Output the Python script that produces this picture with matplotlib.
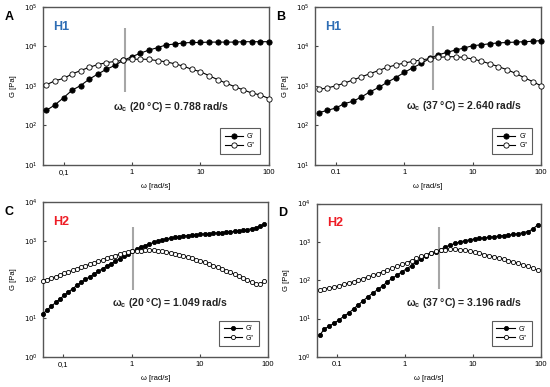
import matplotlib
matplotlib.use('Agg')
import matplotlib.pyplot as plt
import numpy as np

plt.rcParams['font.family'] = ['Liberation Sans', 'DejaVu Sans']

# angular frequency (rad/s)
w_h1 = [0.0562, 0.075, 0.1, 0.133, 0.178, 0.237, 0.316, 0.422, 0.562, 0.75,
        1.0, 1.33, 1.78, 2.37, 3.16, 4.22, 5.62, 7.5, 10, 13.3,
        17.8, 23.7, 31.6, 42.2, 56.2, 75, 100]
w_c = [0.05, 0.0577, 0.0667, 0.077, 0.0889, 0.1027, 0.1186, 0.1369, 0.1581, 0.1826,
       0.2109, 0.2435, 0.2812, 0.3247, 0.375, 0.433, 0.5, 0.5774, 0.6668, 0.77,
       0.8891, 1.027, 1.186, 1.369, 1.581, 1.826, 2.109, 2.435, 2.812, 3.247,
       3.75, 4.33, 5.0, 5.774, 6.668, 7.7, 8.891, 10.27, 11.86, 13.69,
       15.81, 18.26, 21.09, 24.35, 28.12, 32.47, 37.5, 43.3, 50.0, 57.74,
       66.68, 77.0, 88.91]
w_d = [0.055, 0.0648, 0.0763, 0.0899, 0.106, 0.125, 0.147, 0.174, 0.205, 0.241,
       0.284, 0.335, 0.396, 0.466, 0.55, 0.648, 0.763, 0.899, 1.06, 1.25,
       1.47, 1.74, 2.05, 2.41, 2.85, 3.35, 3.95, 4.66, 5.5, 6.48,
       7.63, 8.99, 10.6, 12.5, 14.7, 17.4, 20.5, 24.1, 28.4, 33.5,
       39.6, 46.6, 55.0, 64.8, 76.3, 89.9]

# log10 of G' and G'' (Pa)
a_gp = [2.38, 2.52, 2.70, 2.89, 3.01, 3.17, 3.30, 3.42, 3.52, 3.65,
        3.74, 3.83, 3.91, 3.97, 4.04, 4.06, 4.09, 4.10, 4.10, 4.11,
        4.11, 4.11, 4.11, 4.12, 4.12, 4.12, 4.12]
a_gpp = [3.03, 3.13, 3.19, 3.30, 3.39, 3.47, 3.54, 3.59, 3.62, 3.65,
         3.67, 3.68, 3.67, 3.64, 3.61, 3.56, 3.50, 3.42, 3.36, 3.26,
         3.16, 3.07, 2.98, 2.90, 2.82, 2.77, 2.68]

b_gp = [2.32, 2.38, 2.44, 2.55, 2.61, 2.72, 2.85, 2.96, 3.09, 3.21,
        3.34, 3.46, 3.57, 3.70, 3.79, 3.85, 3.91, 3.96, 4.02, 4.04,
        4.07, 4.09, 4.10, 4.11, 4.12, 4.13, 4.15]
b_gpp = [2.91, 2.95, 3.00, 3.07, 3.15, 3.23, 3.31, 3.39, 3.47, 3.53,
         3.58, 3.62, 3.66, 3.69, 3.72, 3.74, 3.74, 3.72, 3.68, 3.63,
         3.56, 3.49, 3.41, 3.32, 3.21, 3.11, 3.00]

c_gp = [1.11, 1.21, 1.308, 1.404, 1.497, 1.588, 1.676, 1.762, 1.845, 1.923,
        1.998, 2.070, 2.140, 2.209, 2.276, 2.342, 2.407, 2.472, 2.536, 2.600,
        2.663, 2.725, 2.778, 2.828, 2.874, 2.916, 2.956, 2.991, 3.021, 3.047,
        3.069, 3.088, 3.105, 3.120, 3.133, 3.145, 3.156, 3.166, 3.176, 3.185,
        3.194, 3.203, 3.212, 3.221, 3.231, 3.242, 3.255, 3.270, 3.288, 3.310,
        3.338, 3.376, 3.430]
c_gpp = [1.95, 1.991, 2.032, 2.073, 2.114, 2.155, 2.194, 2.233, 2.272, 2.311,
         2.350, 2.389, 2.428, 2.467, 2.504, 2.541, 2.578, 2.615, 2.649, 2.679,
         2.704, 2.723, 2.737, 2.747, 2.753, 2.755, 2.752, 2.743, 2.729, 2.711,
         2.690, 2.666, 2.640, 2.611, 2.580, 2.547, 2.512, 2.476, 2.438, 2.399,
         2.359, 2.317, 2.273, 2.227, 2.179, 2.130, 2.079, 2.029, 1.975, 1.93,
         1.89, 1.88, 1.96]

d_gp = [0.56, 0.73, 0.80, 0.88, 0.96, 1.06, 1.14, 1.25, 1.36, 1.46,
        1.57, 1.66, 1.76, 1.85, 1.96, 2.05, 2.13, 2.22, 2.30, 2.38,
        2.47, 2.55, 2.63, 2.70, 2.745, 2.80, 2.87, 2.92, 2.96, 3.00,
        3.03, 3.055, 3.075, 3.09, 3.105, 3.12, 3.135, 3.15, 3.165, 3.18,
        3.195, 3.215, 3.24, 3.27, 3.33, 3.44]
d_gpp = [1.74, 1.77, 1.80, 1.82, 1.855, 1.89, 1.925, 1.96, 2.00, 2.04,
         2.08, 2.125, 2.17, 2.215, 2.26, 2.31, 2.36, 2.41, 2.46, 2.51,
         2.57, 2.62, 2.67, 2.71, 2.75, 2.785, 2.80, 2.81, 2.81, 2.80,
         2.78, 2.76, 2.73, 2.70, 2.67, 2.64, 2.61, 2.58, 2.55, 2.51,
         2.475, 2.44, 2.40, 2.36, 2.31, 2.26]

# crossover frequencies
wc_vals = [0.788, 2.640, 1.049, 3.196]
temps = ['20', '37', '20', '37']
letters = ['A', 'B', 'C', 'D']
hydrogels = ['H1', 'H1', 'H2', 'H2']

fig = plt.figure(figsize=(5.5, 3.87), dpi=100)

# [left, bottom, width, height] in figure fraction
boxes = [[0.078, 0.574, 0.411, 0.408],
         [0.573, 0.574, 0.411, 0.408],
         [0.078, 0.078, 0.409, 0.400],
         [0.576, 0.078, 0.407, 0.396]]
series = [(w_h1, a_gp, a_gpp), (w_h1, b_gp, b_gpp), (w_c, c_gp, c_gpp), (w_d, d_gp, d_gpp)]
ylims = [(10, 1e5), (10, 1e5), (1, 1e4), (1, 1e4)]
msizes = [3.8, 3.8, 3.0, 3.0]
vlines = [(10**2.84, 10**4.47), (10**2.89, 10**4.51), (10**1.73, 10**3.36), (10**1.76, 10**3.39)]
txt_pos = [(0.52, 10**2.46), (1.05, 10**2.49), (0.52, 10**1.39), (1.05, 10**1.41)]
xlabels_01 = ['0,1', '0.1', '0,1', '0.1']
hcolors = ['#2e6db4', '#2e6db4', '#ee1c25', '#ee1c25']

for i in range(4):
    ax = fig.add_axes(boxes[i])
    w, gp, gpp = series[i]
    ax.set_xscale('log')
    ax.set_yscale('log')
    ax.plot(w, 10**np.array(gp), '-o', color='black', lw=0.8, ms=msizes[i],
            mfc='black', mec='black', mew=0.6, label="G'", clip_on=False, zorder=3)
    ax.plot(w, 10**np.array(gpp), '-o', color='black', lw=0.8, ms=msizes[i],
            mfc='white', mec='black', mew=0.6, label='G"', clip_on=False, zorder=3)
    ax.vlines(wc_vals[i], vlines[i][0], vlines[i][1], color='#a6a6a6', lw=1.5, zorder=2)
    ax.set_xlim(0.05, 100)
    ax.set_ylim(*ylims[i])
    ax.set_xticks([0.1, 1, 10, 100], [xlabels_01[i], '1', '10', '100'])
    ax.minorticks_off()
    lo = int(np.log10(ylims[i][0]))
    yt = [10.0**k for k in range(lo, lo + 5)]
    ax.set_yticks(yt, ['$10^{%d}$' % k for k in range(lo, lo + 5)])
    ax.tick_params(axis='both', direction='in', length=2.5, width=0.8, labelsize=5.5,
                   color='#444444', pad=3)
    ax.tick_params(axis='y', labelsize=5, pad=4)
    for s in ax.spines.values():
        s.set_color('#555555')
        s.set_linewidth(1.0)
    ax.set_xlabel('ω [rad/s]', fontsize=5.5, labelpad=5)
    ax.set_ylabel('G [Pa]', fontsize=5.5, labelpad=5)
    ax.text(txt_pos[i][0], txt_pos[i][1],
            r'ω$_\mathregular{c}$ (%s °C) = %.3f rad/s' % (temps[i], wc_vals[i]),
            fontsize=7.5, fontweight='bold', color='#222222', va='center', ha='left')
    ax.text(0.045, 0.87, hydrogels[i], transform=ax.transAxes, fontsize=9,
            fontweight='bold', color=hcolors[i], va='center', ha='left')
    leg = ax.legend(loc='lower right', bbox_to_anchor=(0.975, 0.045), fontsize=5,
                    handlelength=2.6, fancybox=False, edgecolor='#333333',
                    borderpad=0.7, labelspacing=0.3, handletextpad=0.6)
    leg.get_frame().set_linewidth(0.8)
    bb = boxes[i]
    fig.text(bb[0] - 0.062, bb[1] + bb[3] - 0.025, letters[i], fontsize=9,
             fontweight='bold', va='center', ha='center')

fig.savefig('out.png', dpi=100)
